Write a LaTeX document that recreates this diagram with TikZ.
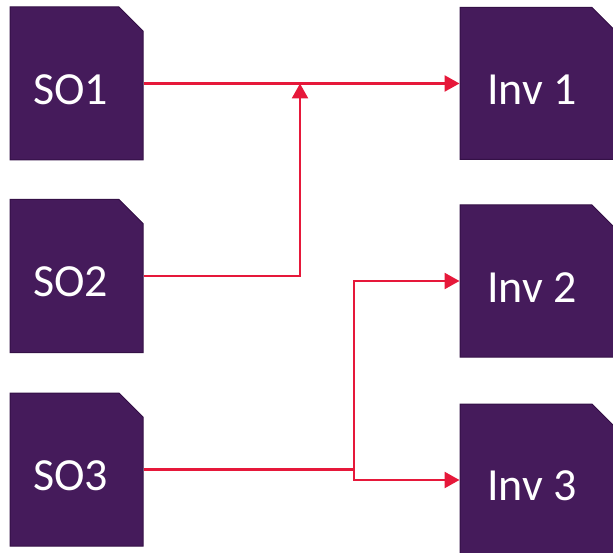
\documentclass[tikz,border=0pt]{standalone}
\usepackage{fontspec}
\setmainfont{Carlito}
\usetikzlibrary{shapes.misc,arrows.meta}
\definecolor{docpurple}{RGB}{69,27,91}
\definecolor{docedge}{RGB}{52,16,70}
\definecolor{linkred}{RGB}{230,24,58}
\tikzset{
  doc/.style={chamfered rectangle, chamfered rectangle corners=north east,
    chamfered rectangle xsep=12pt, chamfered rectangle ysep=12pt,
    fill=docpurple, draw=docedge, line width=1pt, inner sep=0pt,
    text=white, font=\fontsize{46}{54}\selectfont, text height=42pt,
    execute at begin node={\hspace*{-12pt}}},
  src/.style={doc, minimum width=133pt, minimum height=153pt},
  inv/.style={doc, minimum width=156pt, minimum height=152pt},
  link/.style={draw=linkred, line width=2.5pt},
  tip/.style={-{Triangle[length=15pt,width=16pt]}}
}
\begin{document}
\begin{tikzpicture}[x=1pt,y=-1pt]
\useasboundingbox (0,0) rectangle (613,553);
% sources
\node[src] (so1) at (76.5,83.5) {SO1};
\node[src] (so2) at (76.5,276) {SO2};
\node[src] (so3) at (76.5,469.5) {SO3};
% targets
\node[inv] (inv1) at (538,83.5) {Inv 1};
\node[inv] (inv2) at (538,281) {Inv 2};
\node[inv] (inv3) at (538,480) {Inv 3};
% links
\coordinate (j1) at (300,83.5);
\coordinate (j3) at (354,469.5);
\draw[link,tip] (so1.east) -- (inv1.west);
\draw[link,tip] (so2.east) -| (j1);
\draw[link] (so3.east) -- (j3);
\draw[link,tip] (j3) |- (inv2.west);
\draw[link,tip] (j3) |- (inv3.west);
\end{tikzpicture}
\end{document}
